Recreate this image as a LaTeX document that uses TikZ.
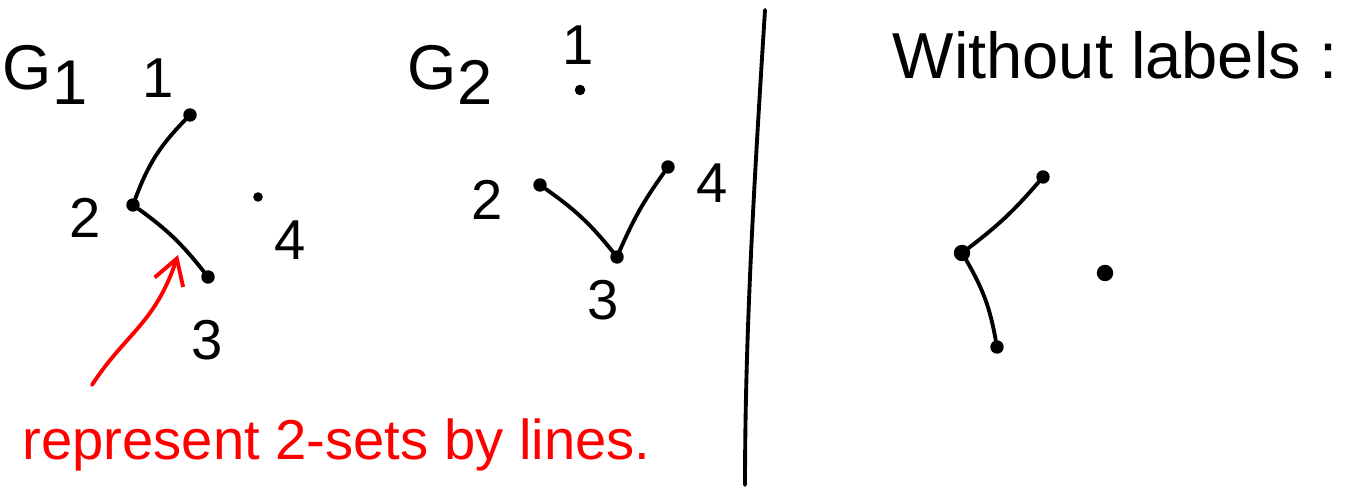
\documentclass[tikz,border=0pt]{standalone}
\usepackage{fontspec}
\setmainfont{Liberation Sans}
\usetikzlibrary{arrows.meta}

\tikzset{
  vtx/.style={circle,fill=black,draw=black,inner sep=0pt,minimum size=0.12cm},
  num/.style={font=\fontsize{16}{18}\selectfont},
  gname/.style={font=\fontsize{18}{20}\selectfont},
  edge/.style={line width=1.1pt,line cap=round}
}

\begin{document}
\begin{tikzpicture}
\useasboundingbox (0,0) rectangle (13.58,4.89);
% G1
\node[gname] (g1) at (0.45,4.14) {G\raisebox{-0.25em}{1}};
\node[vtx] (a1) at (1.90,3.74) {};
\node[vtx] (a2) at (1.33,2.84) {};
\node[vtx] (a3) at (2.08,2.12) {};
\node[vtx,minimum size=0.08cm] (a4) at (2.58,2.92) {};
\node[num] (la1) at (1.58,4.11) {1};
\node[num] (la2) at (0.85,2.71) {2};
\node[num] (la3) at (2.07,1.49) {3};
\node[num] (la4) at (2.90,2.49) {4};
\draw[edge] (a1) to[bend right=12] (a2);
\draw[edge] (a2) to[bend left=8] (a3);
% red note
\node[red,font=\fontsize{16}{18}\selectfont,anchor=west] (note) at (0.10,0.44) {represent 2-sets by lines.};
\coordinate (tip) at (1.78,2.34);
\coordinate (tail) at (0.92,1.04);
\draw[red,line width=1.1pt,line cap=round,-{Straight Barb[length=2.5mm,width=3mm]}] (tail) .. controls (1.25,1.55) and (1.55,1.65) .. (tip);
% G2
\node[gname] (g2) at (4.50,4.14) {G\raisebox{-0.25em}{2}};
\node[vtx,minimum size=0.09cm] (b1) at (5.80,3.99) {};
\node[vtx] (b2) at (5.40,3.04) {};
\node[vtx] (b3) at (6.17,2.32) {};
\node[vtx] (b4) at (6.68,3.22) {};
\node[num] (lb1) at (5.78,4.44) {1};
\node[num] (lb2) at (4.87,2.89) {2};
\node[num] (lb3) at (6.03,1.89) {3};
\node[num] (lb4) at (7.12,3.06) {4};
\draw[edge] (b2) to[bend left=8] (b3);
\draw[edge] (b3) to[bend left=6] (b4);
% divider
\draw[edge] (7.65,4.79) .. controls (7.55,3.2) and (7.45,1.6) .. (7.45,0.04);
% without labels
\node[font=\fontsize{18.5}{20}\selectfont] (wl) at (11.15,4.34) {Without labels :};
\node[vtx] (c1) at (10.43,3.12) {};
\node[vtx,minimum size=0.15cm] (c2) at (9.62,2.36) {};
\node[vtx] (c3) at (9.97,1.42) {};
\node[vtx,minimum size=0.15cm] (c4) at (11.05,2.16) {};
\draw[edge] (c1) to[bend left=6] (c2);
\draw[edge] (c2) to[bend left=10] (c3);
\end{tikzpicture}
\end{document}
